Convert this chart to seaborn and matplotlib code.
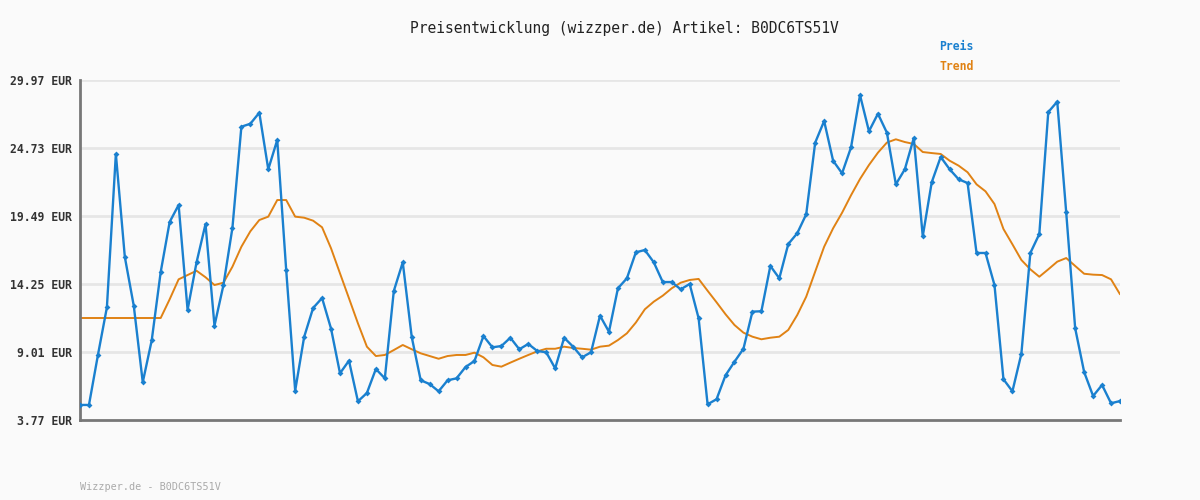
import numpy as np
import pandas as pd
import matplotlib
matplotlib.use('Agg')
import matplotlib.pyplot as plt
import seaborn as sns

# Price values (EUR)
preis = [4.93, 4.93, 8.78, 12.45, 24.27, 16.33, 12.56, 6.68, 9.91, 15.17,
         19.03, 20.34, 12.25, 15.92, 18.87, 11.04, 14.17, 18.57, 26.37, 26.60,
         27.45, 23.09, 25.35, 15.31, 6.03, 10.17, 12.40, 13.17, 10.81, 7.37,
         8.34, 5.21, 5.85, 7.70, 6.98, 13.71, 15.92, 10.17, 6.83, 6.54,
         5.98, 6.83, 6.98, 7.85, 8.32, 10.24, 9.37, 9.47, 10.11, 9.22,
         9.63, 9.09, 8.99, 7.75, 10.11, 9.42, 8.60, 8.99, 11.81, 10.57,
         13.92, 14.69, 16.69, 16.87, 15.92, 14.40, 14.40, 13.84, 14.25, 11.61,
         4.98, 5.37, 7.21, 8.26, 9.26, 12.12, 12.15, 15.64, 14.69, 17.33,
         18.16, 19.62, 25.14, 26.81, 23.75, 22.78, 24.78, 28.81, 26.02, 27.37,
         25.91, 21.93, 23.09, 25.50, 17.93, 22.09, 24.04, 23.09, 22.32, 22.03,
         16.64, 16.64, 14.17, 6.91, 5.98, 8.88, 16.64, 18.10, 27.50, 28.30,
         19.77, 10.84, 7.47, 5.62, 6.47, 5.06, 5.23]

trend = [11.63] * 10 + [
         13.07, 14.61, 14.94, 15.27, 14.77, 14.17, 14.35, 15.58, 17.12, 18.31,
         19.18, 19.44, 20.72, 20.72, 19.44, 19.36, 19.13, 18.62, 17.00, 15.07,
         13.15, 11.22, 9.42, 8.70, 8.78, 9.16, 9.55, 9.22, 8.91, 8.70,
         8.49, 8.70, 8.78, 8.78, 8.96, 8.60, 8.01, 7.88, 8.19, 8.49,
         8.78, 9.06, 9.26, 9.26, 9.42, 9.32, 9.26, 9.19, 9.42, 9.50,
         9.93, 10.45, 11.28, 12.30, 12.89, 13.35, 13.92, 14.35, 14.56, 14.64,
         13.73, 12.84, 11.92, 11.09, 10.50, 10.19, 9.99, 10.11, 10.19, 10.71,
         11.86, 13.27, 15.20, 17.12, 18.54, 19.74, 21.09, 22.34, 23.42, 24.37,
         25.15, 25.40, 25.19, 25.04, 24.42, 24.34, 24.27, 23.75, 23.37, 22.86,
         21.93, 21.39, 20.41, 18.49, 17.31, 16.10, 15.38, 14.81, 15.38, 15.97,
         16.25, 15.64, 15.04, 14.97, 14.94, 14.61, 13.46]

yticks = [3.77, 9.01, 14.25, 19.49, 24.73, 29.97]
ytick_labels = [f'{v:.2f} EUR' for v in yticks]

df = pd.DataFrame({'idx': np.arange(len(preis)), 'Preis': preis, 'Trend': trend})

bg = '#fafafa'
blue = '#1a80cf'
orange = '#e08214'
mono = ['DejaVu Sans Mono']

sns.set_style('white')
plt.rcParams['font.family'] = mono

fig = plt.figure(figsize=(12, 5), dpi=100, facecolor=bg)
ax = fig.add_axes([80 / 1200, 80 / 500, 1040 / 1200, 340 / 500])
ax.set_facecolor(bg)

for v in yticks[1:]:
    ax.axhline(v, color='#e6e6e6', lw=2, zorder=0)

sns.lineplot(data=df, x='idx', y='Trend', color=orange, lw=1.4, ax=ax, zorder=2)
sns.lineplot(data=df, x='idx', y='Preis', color=blue, lw=1.7, marker='D',
             markersize=3, markeredgewidth=0, ax=ax, zorder=3)

ax.set_xlim(0, len(preis) - 1)
ax.set_ylim(yticks[0], yticks[-1])
ax.set_xticks([])
ax.set_yticks(yticks)
ax.set_yticklabels(ytick_labels, fontsize=8.3, fontweight='bold', color='#333333')
ax.tick_params(axis='y', length=0, pad=6)
ax.set_xlabel('')
ax.set_ylabel('')
for side in ['top', 'right']:
    ax.spines[side].set_visible(False)
for side in ['left', 'bottom']:
    ax.spines[side].set_color('#777777')
    ax.spines[side].set_linewidth(2)

fig.text(624 / 1200, 1 - 28 / 500, 'Preisentwicklung (wizzper.de) Artikel: B0DC6TS51V',
         ha='center', va='center', fontsize=10.5, color='#222222')
fig.text(939 / 1200, 1 - 47 / 500, 'Preis', ha='left', va='center',
         fontsize=8.3, fontweight='bold', color=blue)
fig.text(939 / 1200, 1 - 67 / 500, 'Trend', ha='left', va='center',
         fontsize=8.3, fontweight='bold', color=orange)
fig.text(80 / 1200, 1 - 487 / 500, 'Wizzper.de - B0DC6TS51V', ha='left', va='center',
         fontsize=7.3, color='#aaaaaa')

fig.savefig('out.png', dpi=100, facecolor=bg)
